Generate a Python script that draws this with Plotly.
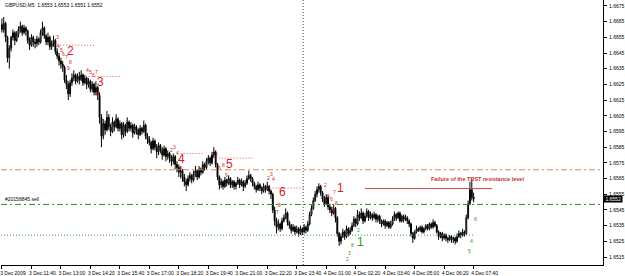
import plotly.graph_objects as go

# prices in pips above 1.6500
BASE = 1.65
PIP = 0.0001

OPEN_P = [163,160,164,155,142,148,155,158,153,157,160,162,158,161,159,153,150,155,152,151,154,152,158,161,156,152,155,149,151,153,146,143,140,138,136,128,125,119,126,129,131,127,130,128,131,126,129,125,127,122,125,120,123,118,104,92,100,96,104,98,95,101,98,103,97,100,93,99,95,101,97,99,94,98,96,93,97,95,99,92,90,88,84,89,85,82,86,83,80,84,79,81,78,76,79,74,72,69,70,66,63,61,65,67,64,68,70,66,71,69,74,72,76,78,75,80,82,74,66,61,63,60,64,62,65,61,63,60,62,64,61,63,60,62,65,67,65,62,60,58,61,59,57,60,58,60,57,55,45,38,34,36,33,38,40,43,37,35,32,34,31,33,30,33,31,34,32,36,42,46,51,55,58,60,56,52,49,53,47,45,43,46,40,30,25,28,31,28,33,30,32,35,39,36,42,40,43,38,41,44,40,42,40,42,39,41,38,36,38,35,37,34,36,39,42,40,43,38,41,39,40,38,36,30,27,31,33,32,34,31,33,35,33,36,34,37,35,31,28,30,27,29,27,26,28,26,27,25,28,30,29,31,30,40,49,58,53]
HIGH_P = [167,168,165,156,150,156,160,159,159,162,165,163,163,162,160,155,157,156,154,156,155,160,165,162,157,158,156,153,156,154,148,145,142,140,137,131,127,128,132,134,132,132,133,134,132,131,130,129,128,127,126,127,124,120,106,103,102,108,106,100,104,102,106,104,102,101,101,100,104,102,101,100,100,99,97,99,98,102,100,94,92,89,91,90,87,88,87,85,86,85,83,82,80,81,80,76,74,73,71,68,65,67,69,68,70,73,71,73,72,76,75,78,80,79,82,85,83,75,67,65,64,66,65,67,66,64,64,63,66,65,65,64,64,67,70,68,66,63,61,63,62,60,62,61,63,61,58,56,47,40,39,37,40,42,46,44,38,36,36,35,35,34,35,34,36,35,38,44,48,53,57,60,62,61,57,54,55,54,49,47,48,47,41,31,30,33,32,35,34,34,37,41,40,45,44,46,44,43,46,45,44,43,44,43,42,42,39,39,39,38,38,38,41,44,43,44,44,42,42,42,41,39,37,31,32,35,34,35,35,34,36,36,37,37,39,38,36,32,31,31,30,30,28,29,29,28,28,30,32,31,33,32,42,51,63,65,56]
LOW_P = [158,158,152,139,135,146,153,150,152,155,158,156,157,156,151,147,149,149,148,149,150,151,156,154,150,150,147,147,149,144,141,137,135,133,126,122,115,117,124,127,125,126,125,127,124,125,122,123,120,120,118,118,115,100,85,90,93,95,96,92,94,95,97,95,95,90,91,92,94,95,95,91,93,93,90,92,93,94,90,87,86,81,83,83,78,80,81,77,79,76,77,75,73,74,71,69,66,65,63,60,57,60,63,62,63,66,64,65,67,68,70,71,74,73,74,78,72,64,58,59,58,59,60,61,59,59,58,58,61,59,60,57,59,61,64,63,60,58,56,57,57,55,56,56,57,55,52,43,35,30,32,31,32,37,39,35,33,30,31,29,30,28,29,29,30,30,31,35,41,45,50,53,56,54,50,47,48,45,43,41,42,37,28,22,23,27,26,27,28,29,31,34,34,35,38,39,36,37,40,38,39,38,39,37,37,36,34,35,33,34,33,33,35,38,38,39,37,37,37,38,36,34,28,24,26,30,31,31,30,30,32,32,32,33,33,34,30,26,27,25,26,25,24,25,24,24,23,24,27,27,28,28,29,39,48,51,50]
CLOSE_P = [160,164,155,142,148,155,158,153,157,160,162,158,161,159,153,150,155,152,151,154,152,158,161,156,152,155,149,151,153,146,143,140,138,136,128,125,119,126,129,131,127,130,128,131,126,129,125,127,122,125,120,123,118,104,92,100,96,104,98,95,101,98,103,97,100,93,99,95,101,97,99,94,98,96,93,97,95,99,92,90,88,84,89,85,82,86,83,80,84,79,81,78,76,79,74,72,69,70,66,63,61,65,67,64,68,70,66,71,69,74,72,76,78,75,80,82,74,66,61,63,60,64,62,65,61,63,60,62,64,61,63,60,62,65,67,65,62,60,58,61,59,57,60,58,60,57,55,45,38,34,36,33,38,40,43,37,35,32,34,31,33,30,33,31,34,32,36,42,46,51,55,58,60,56,52,49,53,47,45,43,46,40,30,25,28,31,28,33,30,32,35,39,36,42,40,43,38,41,44,40,42,40,42,39,41,38,36,38,35,37,34,36,39,42,40,43,38,41,39,40,38,36,30,27,31,33,32,34,31,33,35,33,36,34,37,35,31,28,30,27,29,27,26,28,26,27,25,28,30,29,31,30,40,49,58,53,52]

TIME_LABELS = ["3 Dec 2009", "3 Dec 11:40", "3 Dec 13:00", "3 Dec 14:20", "3 Dec 15:40",
               "3 Dec 17:00", "3 Dec 18:20", "3 Dec 19:40", "3 Dec 21:00", "3 Dec 22:20",
               "3 Dec 23:40", "4 Dec 01:00", "4 Dec 02:20", "4 Dec 03:40", "4 Dec 05:00",
               "4 Dec 06:20", "4 Dec 07:40"]
TIME_TICK_BARS = [0, 16, 32, 48, 64, 80, 96, 112, 128, 144, 160, 176, 192, 208, 224, 240, 256]
PRICE_TICKS = [1.6515, 1.6525, 1.6535, 1.6545, 1.6555, 1.6565, 1.6575, 1.6585, 1.6595,
               1.6605, 1.6615, 1.6625, 1.6635, 1.6645, 1.6655, 1.6665, 1.6675]

SYMBOL_TEXT = "GBPUSD,M5  1.6553 1.6553 1.6551 1.6552"
LAST_PRICE = 1.6552
ORDER_LEVEL = 1.65485
ORDER_TEXT = "#20158845 sell"
ORANGE_LEVEL = 1.65706
GREEN_SUPPORT = 1.65289
DAY_SEPARATOR_BAR = 163.5
# TDST resistance levels: (price, from bar, to bar)
RES_LEVELS = [(1.6650, 30, 50), (1.6630, 47, 65), (1.6581, 97, 110), (1.6578, 116, 136), (1.6559, 142, 164)]
TDST_FAIL = (1.65586, 197, 266)
FAIL_TEXT = "Failure of the TDST resistance level"

# big setup numbers (text, bar, price, colour)
BIG_NUMS = [("2", 37.4, 1.66465, "red"), ("3", 53.4, 1.66263, "red"), ("4", 97.6, 1.65776, "red"),
            ("5", 123.5, 1.65744, "red"), ("6", 152.0, 1.65567, "red"), ("1", 183.8, 1.65590, "red"),
            ("1", 194.6, 1.65245, "green")]
# small count digits (text, bar, price, colour)
SMALL_NUMS = [("3", 30.2, 1.66554, "red"), ("4", 30.8, 1.66497, "red"), ("5", 32.1, 1.66472, "red"),
              ("6", 33.5, 1.66447, "red"), ("7", 34.8, 1.66422, "red"), ("8", 37.2, 1.66390, "red"),
              ("9", 36.0, 1.66352, "red"),
              ("4", 46.4, 1.66345, "red"), ("5", 48.0, 1.66326, "red"), ("6", 49.6, 1.66310, "red"),
              ("7", 51.2, 1.66330, "red"), ("9", 51.8, 1.66190, "red"),
              ("2", 92.2, 1.65833, "red"), ("3", 93.8, 1.65850, "red"), ("4", 95.2, 1.65814, "red"),
              ("6", 97.1, 1.65719, "red"),
              ("2", 116.5, 1.65801, "red"), ("6", 118.1, 1.65719, "red"), ("8", 120.3, 1.65735, "red"),
              ("9", 121.9, 1.65672, "red"),
              ("2", 144.5, 1.65656, "red"), ("3", 146.1, 1.65678, "red"), ("4", 147.6, 1.65645, "red"),
              ("7", 149.4, 1.65440, "red"), ("8", 150.6, 1.65482, "red"),
              ("2", 175.8, 1.65612, "red"), ("5", 177.2, 1.65540, "red"), ("6", 178.8, 1.65520, "red"),
              ("7", 180.6, 1.65565, "red"), ("8", 181.4, 1.65494, "red"), ("9", 179.6, 1.65455, "red"),
              ("7", 191.6, 1.65352, "green"), ("2", 193.4, 1.65321, "green"), ("8", 190.3, 1.65226, "green"),
              ("3", 188.6, 1.65175, "green"), ("2", 187.4, 1.65140, "green"),
              ("8", 257.2, 1.65390, "green"), ("4", 255.0, 1.65251, "green"), ("5", 253.9, 1.65188, "green")]

COL = {"red": "#d42020", "green": "#2a9a2a"}

opens = [BASE + v * PIP for v in OPEN_P]
highs = [BASE + v * PIP for v in HIGH_P]
lows = [BASE + v * PIP for v in LOW_P]
closes = [BASE + v * PIP for v in CLOSE_P]
idx = list(range(len(CLOSE_P)))

fig = go.Figure()
fig.add_trace(go.Candlestick(
    x=idx, open=opens, high=highs, low=lows, close=closes,
    increasing=dict(line=dict(color="black", width=1), fillcolor="white"),
    decreasing=dict(line=dict(color="black", width=1), fillcolor="black"),
    whiskerwidth=0, showlegend=False, hoverinfo="skip"))

shapes = []
shapes.append(dict(type="line", xref="x", yref="paper", x0=DAY_SEPARATOR_BAR, x1=DAY_SEPARATOR_BAR,
                   y0=0, y1=1, line=dict(color="#444444", width=1, dash="1px,2px"), layer="below"))
shapes.append(dict(type="line", xref="paper", yref="y", x0=0, x1=1, y0=ORANGE_LEVEL, y1=ORANGE_LEVEL,
                   line=dict(color="#d98a5a", width=1, dash="6px,3px,2px,3px")))
shapes.append(dict(type="line", xref="paper", yref="y", x0=0, x1=1, y0=ORDER_LEVEL, y1=ORDER_LEVEL,
                   line=dict(color="#2f8f2f", width=1, dash="6px,3px,2px,3px")))
shapes.append(dict(type="line", xref="x", yref="y", x0=-0.5, x1=256, y0=GREEN_SUPPORT, y1=GREEN_SUPPORT,
                   line=dict(color="#3aa03a", width=1, dash="1px,2px")))
for p, a, b in RES_LEVELS:
    shapes.append(dict(type="line", xref="x", yref="y", x0=a, x1=b, y0=p, y1=p,
                       line=dict(color="#e05050", width=1, dash="1px,2px")))
shapes.append(dict(type="line", xref="x", yref="y", x0=TDST_FAIL[1], x1=TDST_FAIL[2],
                   y0=TDST_FAIL[0], y1=TDST_FAIL[0], line=dict(color="#c84848", width=1)))

ann = []
FONT = "Liberation Sans, Arial, sans-serif"
ann.append(dict(xref="paper", yref="paper", x=0.003, y=1.0, xanchor="left", yanchor="top",
                text=SYMBOL_TEXT, showarrow=False, font=dict(family=FONT, size=5, color="black")))
ann.append(dict(xref="paper", yref="y", x=0.004, y=ORDER_LEVEL, xanchor="left", yanchor="bottom",
                text=ORDER_TEXT, showarrow=False, font=dict(family=FONT, size=5, color="black")))
ann.append(dict(xref="x", yref="y", x=TDST_FAIL[1] + 35, y=1.6565, xanchor="left", yanchor="middle",
                text="<b>" + FAIL_TEXT + "</b>", showarrow=False, font=dict(family=FONT, size=5.5, color="#c83030")))
ann.append(dict(xref="paper", yref="y", x=1.0, y=LAST_PRICE, xanchor="left", yanchor="middle",
                text=" %.4f " % LAST_PRICE, showarrow=False, bgcolor="black", borderpad=0,
                font=dict(family=FONT, size=5, color="white")))
for t, xb, p, c in BIG_NUMS:
    ann.append(dict(xref="x", yref="y", x=xb, y=p, text=t, showarrow=False,
                    font=dict(family=FONT, size=12, color=COL[c])))
for t, xb, p, c in SMALL_NUMS:
    ann.append(dict(xref="x", yref="y", x=xb, y=p, text=t, showarrow=False,
                    font=dict(family=FONT, size=5, color=COL[c])))

fig.update_layout(
    width=625, height=276,
    margin=dict(l=0, r=19, t=0, b=9),
    paper_bgcolor="white", plot_bgcolor="white",
    shapes=shapes, annotations=ann, showlegend=False,
    xaxis=dict(range=[-0.5, 326.2], tickmode="array", tickvals=TIME_TICK_BARS, ticktext=TIME_LABELS,
               ticks="outside", ticklen=3, tickcolor="black", showline=True, linecolor="black",
               linewidth=1, showgrid=False, zeroline=False, rangeslider=dict(visible=False),
               tickfont=dict(family=FONT, size=5, color="black"), ticklabelshift=11,
               ticklabelstandoff=0, ticklabeloverflow="allow", fixedrange=True),
    yaxis=dict(range=[1.65099, 1.66788], side="right", tickmode="array", tickvals=PRICE_TICKS,
               ticktext=["%.4f" % v for v in PRICE_TICKS], ticks="outside", ticklen=3,
               tickcolor="black", showline=True, linecolor="black", linewidth=1, showgrid=False,
               zeroline=False, tickfont=dict(family=FONT, size=5, color="black"),
               ticklabelstandoff=1, fixedrange=True),
)

fig.write_html("out.html")
